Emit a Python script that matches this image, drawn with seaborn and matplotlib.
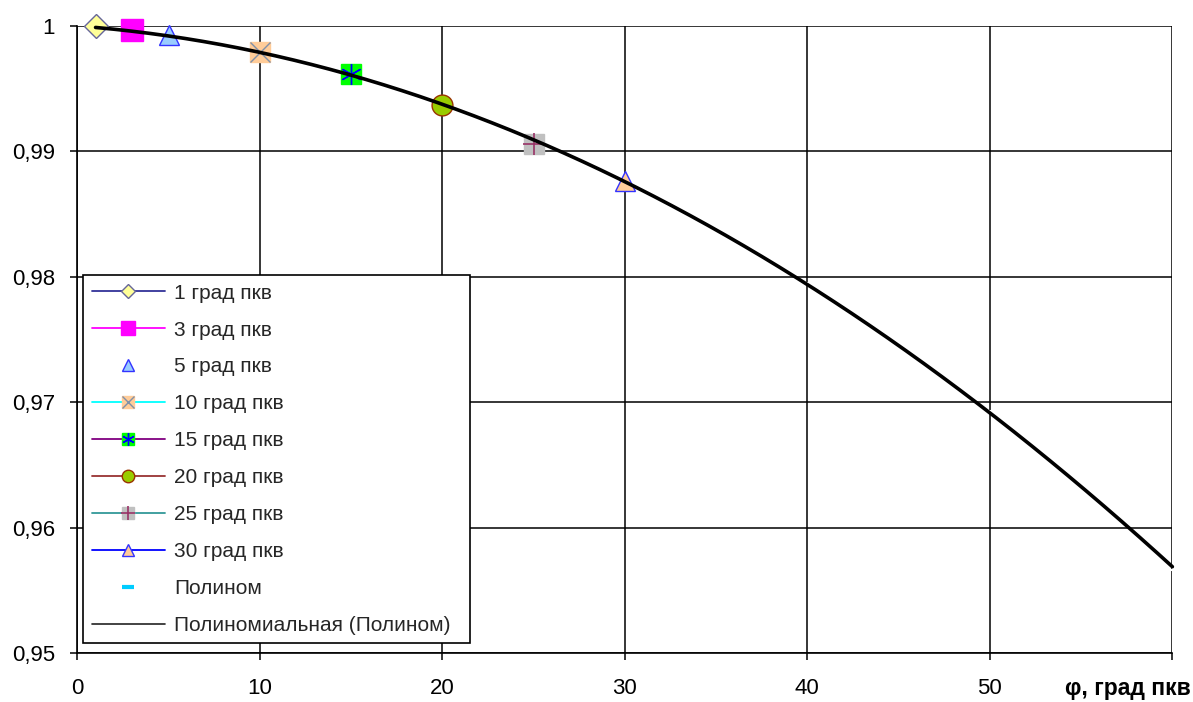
import numpy as np
import pandas as pd
import matplotlib
matplotlib.use("Agg")
import matplotlib.pyplot as plt
import seaborn as sns
from matplotlib.legend_handler import HandlerTuple
from matplotlib.lines import Line2D

# ---------------- data ----------------
series_names = ["1 град пкв", "3 град пкв", "5 град пкв", "10 град пкв",
                "15 град пкв", "20 град пкв", "25 град пкв", "30 град пкв"]
series_x = [1, 3, 5, 10, 15, 20, 25, 30]
series_y = [1.00000, 0.99968, 0.99928, 0.99793, 0.99618, 0.99372, 0.99056, 0.98768]

polynom_label = "Полином"
polynom_x = [1, 5, 10, 15, 20, 25, 30, 35, 40, 45, 50, 55, 60]
polynom_y = [0.99999, 0.99920, 0.99787, 0.99604, 0.99371, 0.99085, 0.98748,
             0.98365, 0.97955, 0.97465, 0.96934, 0.96338, 0.95664]
trend_label = "Полиномиальная (Полином)"
trend_degree = 2

x_ticks = [0, 10, 20, 30, 40, 50, 60]
x_tick_labels = ["0", "10", "20", "30", "40", "50", ""]
y_ticks = [0.95, 0.96, 0.97, 0.98, 0.99, 1.00]
y_tick_labels = ["0,95", "0,96", "0,97", "0,98", "0,99", "1"]
x_label = "φ, град пкв"

# ---------------- styles ----------------
styles = [
    dict(color="#333399", marker="D", ms=12, mfc="#FFFF99", mec="#666699", mew=1.0, ls="-"),
    dict(color="#FF00FF", marker="s", ms=16, mfc="#FF00FF", mec="#FF00FF", mew=1.0, ls="-"),
    dict(color="#3333FF", marker="^", ms=14, mfc="#99CCFF", mec="#3333FF", mew=1.0, ls="none"),
    dict(color="#00FFFF", marker="s", ms=14, mfc="#FFCC99", mec="#FFCC99", mew=1.0, ls="-",
         over=dict(marker="x", ms=14, color="#8090A8", mew=1.0)),
    dict(color="#800080", marker="s", ms=14, mfc="#00FF00", mec="#00FF00", mew=1.0, ls="-",
         over=dict(marker=(6, 2, 0), ms=15, color="#0000FF", mew=1.0)),
    dict(color="#993333", marker="o", ms=15, mfc="#99CC00", mec="#993300", mew=1.0, ls="-"),
    dict(color="#339999", marker="s", ms=15, mfc="#C0C0C0", mec="#C0C0C0", mew=1.0, ls="-",
         over=dict(marker="+", ms=16, color="#993366", mew=1.2)),
    dict(color="#0000FF", marker="^", ms=15, mfc="#FFCC99", mec="#3333FF", mew=1.0, ls="-"),
]

FS_TICK = 16
FS_LEG = 15

sns.set_style("white")
plt.rcParams["font.family"] = ["Liberation Sans", "DejaVu Sans"]

fig = plt.figure(figsize=(11.93, 7.02), dpi=100)
ax = fig.add_axes([0.0648, 0.0694, 0.9827 - 0.0648, 0.963 - 0.0694])

handles = []
for name, x, y, st in zip(series_names, series_x, series_y, styles):
    df = pd.DataFrame({"x": [x], "y": [y]})
    sns.lineplot(data=df, x="x", y="y", ax=ax, errorbar=None, legend=False,
                 color=st["color"], marker=st["marker"], markersize=st["ms"],
                 markerfacecolor=st["mfc"], markeredgecolor=st["mec"],
                 markeredgewidth=st["mew"], linestyle=st["ls"], linewidth=1.3,
                 zorder=3, clip_on=False)
    h = Line2D([], [], color=st["color"], linestyle=st["ls"], linewidth=1.3,
               marker=st["marker"], markersize=st["ms"] * 0.6,
               markerfacecolor=st["mfc"], markeredgecolor=st["mec"], markeredgewidth=st["mew"])
    if "over" in st:
        ov = st["over"]
        sns.lineplot(data=df, x="x", y="y", ax=ax, errorbar=None, legend=False,
                     color=ov["color"], marker=ov["marker"], markersize=ov["ms"],
                     markeredgecolor=ov["color"], markeredgewidth=ov["mew"],
                     linestyle="none", zorder=3.1, clip_on=False)
        h2 = Line2D([], [], color=ov["color"], linestyle="none", marker=ov["marker"],
                    markersize=ov["ms"] * 0.6, markeredgecolor=ov["color"],
                    markeredgewidth=ov["mew"])
        handles.append((h, h2))
    else:
        handles.append(h)

# Полином points
pdf = pd.DataFrame({"x": polynom_x, "y": polynom_y})
sns.lineplot(data=pdf, x="x", y="y", ax=ax, errorbar=None, legend=False,
             color="#00CCFF", marker="_", markersize=3, markeredgewidth=1.5,
             linestyle="none", zorder=2.5)
handles.append(Line2D([], [], color="#00CCFF", linestyle="none", marker="_",
                      markersize=8, markeredgewidth=3))

# polynomial trend line
coef = np.polyfit(polynom_x, polynom_y, trend_degree)
tx = np.linspace(min(polynom_x), max(polynom_x), 300)
tdf = pd.DataFrame({"x": tx, "y": np.polyval(coef, tx)})
sns.lineplot(data=tdf, x="x", y="y", ax=ax, errorbar=None, legend=False,
             color="black", linewidth=2.6, zorder=4, clip_on=False)
handles.append(Line2D([], [], color="#222222", linewidth=1.2))

labels = series_names + [polynom_label, trend_label]

ax.set_xlim(0, 60)
ax.set_ylim(0.95, 1.0)
ax.set_xticks(x_ticks)
ax.set_xticklabels(x_tick_labels)
ax.set_yticks(y_ticks)
ax.set_yticklabels(y_tick_labels)
ax.set_xlabel("")
ax.set_ylabel("")
ax.grid(True, color="black", linewidth=1.1)
ax.set_axisbelow(True)
for s in ["top", "right"]:
    ax.spines[s].set_visible(False)
for s in ["left", "bottom"]:
    ax.spines[s].set_color("black")
    ax.spines[s].set_linewidth(1.2)
ax.tick_params(axis="both", direction="out", length=5, width=1.1, colors="black",
               labelsize=FS_TICK, left=True, bottom=True)
ax.tick_params(axis="y", pad=11)
ax.tick_params(axis="x", pad=13)

fig.text(1191 / 1193, 1 - 689 / 702, x_label, ha="right", va="center",
         fontsize=16.5, fontweight="bold", color="black")

leg = ax.legend(handles, labels, loc="lower left",
                bbox_to_anchor=(0.0055, 0.016, 0.3535, 0.59), mode="expand",
                handler_map={tuple: HandlerTuple(ndivide=1)},
                fontsize=FS_LEG, frameon=True, fancybox=False, framealpha=1,
                edgecolor="black", borderpad=0.4, labelspacing=0.86,
                handlelength=3.5, handletextpad=0.45, borderaxespad=0)
leg.get_frame().set_linewidth(1.2)
leg.set_zorder(5)

fig.savefig("out.png", dpi=100)
